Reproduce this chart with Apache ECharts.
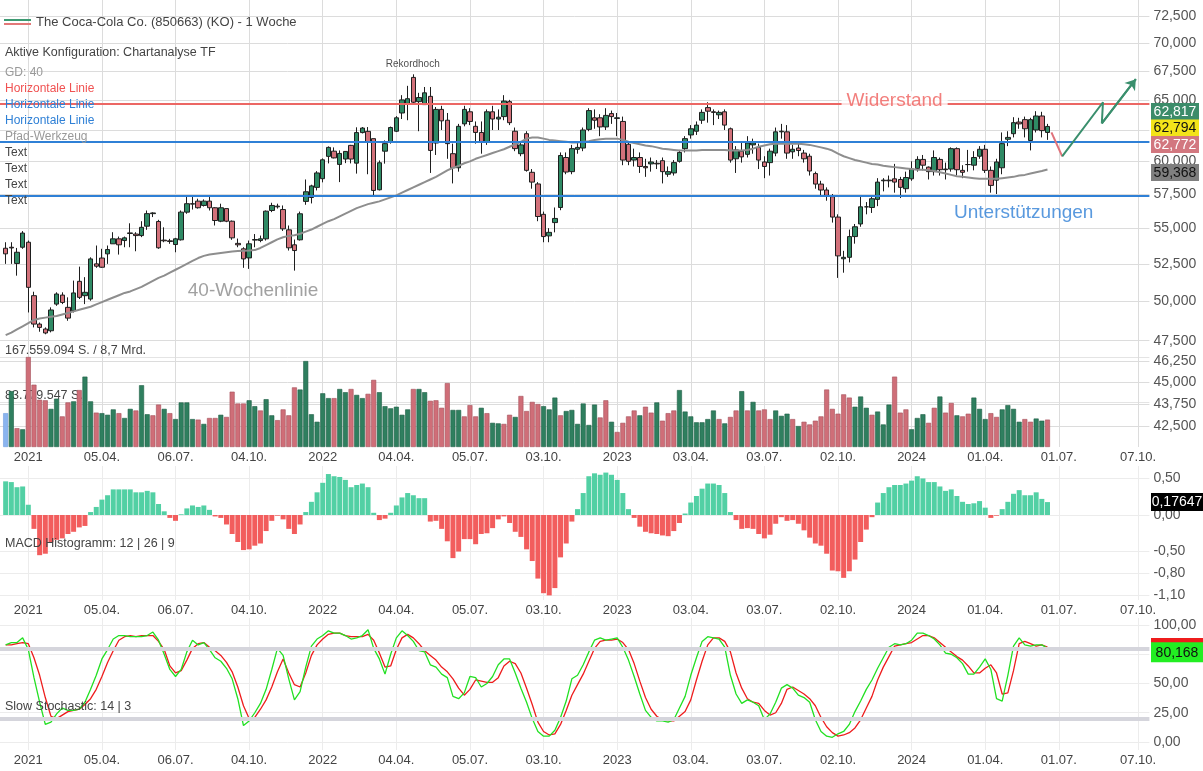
<!DOCTYPE html>
<html><head><meta charset="utf-8">
<script src="https://cdn.jsdelivr.net/npm/echarts@6.0.0/dist/echarts.min.js"></script>
<style>html,body{margin:0;padding:0;background:#fff;}#chart{width:1203px;height:771px;}</style>
</head><body><div id="chart"></div>
<script>
const FONT = '"Liberation Sans", Arial, sans-serif';
// ---------- axes / categories ----------
const firstWeek = '2020-11-30';
const weekCount = 204;
const dataOffset = 1; // first data week = 2020-12-07
const xTickDates = ['2021-01-04','2021-04-05','2021-07-05','2021-10-04','2022-01-03','2022-04-04','2022-07-04','2022-10-03','2023-01-02','2023-04-03','2023-07-03','2023-10-02','2024-01-01','2024-04-01','2024-07-01','2024-10-07'];
const xTickTexts = ['2021','05.04.','06.07.','04.10.','2022','04.04.','05.07.','03.10.','2023','03.04.','03.07.','02.10.','2024','01.04.','01.07.','07.10.'];
const priceTicks = [72.5,70,67.5,65,62.5,60,57.5,55,52.5,50,47.5,46.25,45,43.75,42.5];
const macdTicks = [0.5,0,-0.5,-0.8,-1.1];
const stochTicks = [100,75,50,25,0];
const volTicks = [83.779547,167.559094];
const volTickTexts = ['83.779.547 S.','167.559.094 S. / 8,7 Mrd.'];

// ---------- weekly candles ----------
const openP = [53.58,53.65,52.53,53.65,54.00,50.37,48.54,48.23,48.12,49.82,
50.41,49.61,49.39,51.32,50.37,50.15,52.50,52.90,53.19,53.89,
54.24,54.12,54.62,54.58,54.47,55.14,56.05,55.48,54.15,54.10,
53.84,54.17,56.16,56.78,56.97,56.65,56.97,56.48,55.50,56.42,
55.50,53.92,53.54,52.91,54.15,54.12,54.24,56.28,56.55,56.35,
54.88,53.82,54.17,56.95,57.24,58.00,58.66,60.39,60.80,59.76,
60.18,61.26,59.86,62.29,62.39,61.80,57.82,60.80,61.50,62.40,
63.90,64.70,66.93,64.85,64.60,65.30,61.45,64.20,63.30,60.60,
59.50,63.00,64.00,62.80,62.30,61.50,64.00,63.40,63.60,64.85,
62.40,60.60,62.20,59.15,58.26,56.00,54.45,55.40,56.50,60.30,
59.20,60.95,61.05,62.55,63.50,63.50,62.75,63.85,63.45,63.20,
61.35,60.10,60.30,59.60,59.80,59.85,60.05,59.00,59.10,60.00,
61.00,62.10,62.40,63.30,64.35,64.00,63.75,64.00,62.60,60.20,
60.80,60.55,61.30,61.10,59.95,59.90,60.65,62.35,62.35,60.75,
61.05,60.65,60.40,59.05,58.25,57.80,57.30,55.80,52.85,52.95,
54.40,55.30,56.55,56.50,57.10,58.50,58.55,58.65,58.60,57.90,
58.65,59.45,60.15,59.55,59.20,60.15,59.40,59.40,61.00,59.30,
59.75,59.70,60.40,60.95,59.30,58.55,59.50,61.75,62.20,63.15,
63.35,61.65,62.50,63.65,62.30];
const closeP = [53.19,53.60,53.30,54.65,50.92,48.54,48.33,47.98,49.44,50.48,
49.93,48.92,50.55,50.26,50.59,52.84,52.34,52.27,53.49,54.24,
53.82,54.31,54.66,54.47,55.06,56.05,56.10,53.61,54.10,54.05,
54.24,56.16,56.78,56.75,56.48,56.97,56.48,55.55,56.48,55.50,
54.31,53.82,52.84,53.89,54.19,54.24,56.23,56.65,56.60,54.95,
53.61,53.42,56.04,57.67,58.11,59.10,60.12,61.10,60.27,60.62,
60.78,60.18,62.29,62.66,61.52,57.77,59.89,61.40,62.70,63.50,
65.00,65.10,64.80,65.20,65.60,60.86,64.20,63.25,61.40,59.50,
62.80,64.20,63.20,62.30,61.50,64.00,63.40,63.55,64.90,63.10,
61.00,61.30,59.30,58.40,55.84,54.40,54.70,55.70,60.46,59.17,
61.00,61.10,62.50,64.10,63.30,62.75,63.70,63.60,63.50,60.10,
60.00,60.30,59.60,59.50,59.95,59.80,59.20,59.20,59.90,60.70,
61.80,62.60,62.90,63.95,64.05,63.95,63.95,62.90,60.10,60.90,
60.35,61.45,61.45,60.10,59.60,60.80,62.35,62.40,60.65,60.95,
60.85,60.20,59.25,58.25,57.80,57.40,55.80,53.05,52.95,54.40,
55.10,56.55,56.55,57.15,58.40,58.55,58.50,58.40,58.00,58.75,
59.40,60.15,59.70,59.20,60.30,59.35,59.35,61.00,59.35,59.15,
59.75,60.30,60.95,59.30,58.15,59.95,61.40,61.90,63.10,63.00,
62.60,63.35,63.65,62.45,62.79];
const lowP = [52.50,52.50,51.70,53.54,49.28,48.33,48.06,47.90,48.02,49.71,
49.82,48.75,49.28,50.15,49.82,50.04,52.23,52.23,52.50,53.89,
53.14,53.65,53.65,53.37,54.36,54.88,55.80,53.54,54.00,53.89,
53.30,54.12,56.04,56.35,56.42,56.57,56.28,55.19,55.43,55.43,
54.17,53.65,52.23,52.16,53.65,54.00,54.12,56.16,56.42,54.80,
53.42,52.04,54.12,56.70,56.80,57.77,58.38,59.84,60.23,58.40,
59.86,59.84,59.05,62.22,59.00,57.28,57.77,59.82,61.40,62.33,
63.40,63.30,64.60,62.40,64.60,59.10,60.50,62.50,60.20,58.30,
59.20,62.80,62.90,61.40,60.60,61.30,62.50,62.50,63.30,62.90,
60.80,60.40,59.20,57.90,55.50,54.00,54.00,54.70,56.30,59.00,
59.00,60.60,60.80,62.40,62.60,62.00,62.50,63.00,62.00,59.70,
59.70,59.60,59.10,58.80,59.20,59.40,58.30,58.80,58.90,59.90,
60.70,61.80,62.10,63.00,63.10,62.90,63.40,62.50,59.90,59.10,
59.90,60.30,60.60,59.40,58.70,58.90,60.40,61.80,60.20,60.20,
60.40,59.90,58.90,57.90,57.40,57.00,55.40,51.55,51.90,52.60,
53.90,55.10,56.00,56.10,56.60,57.70,58.00,57.60,57.20,57.60,
58.50,59.20,59.30,58.60,58.90,58.90,58.60,59.20,58.90,58.70,
59.20,59.30,60.20,59.10,57.60,57.50,59.00,61.20,61.90,62.60,
61.90,60.86,62.30,61.90,61.70];
const highP = [54.00,54.00,53.60,54.79,54.12,50.63,48.64,48.33,49.61,50.59,
50.59,50.26,51.37,52.31,51.60,52.95,53.77,53.54,53.77,54.71,
54.40,54.40,55.35,54.71,55.50,56.28,56.15,55.60,55.06,54.24,
54.31,56.28,57.40,57.28,57.15,57.10,57.40,56.52,56.78,56.42,
55.55,54.26,53.65,54.12,54.58,54.47,56.28,56.85,56.78,56.65,
55.19,54.19,56.20,58.60,58.20,59.24,60.23,61.18,61.10,60.86,
60.80,61.30,62.72,62.74,62.74,61.80,60.07,61.66,62.78,63.64,
65.40,66.20,67.20,65.60,66.10,66.10,64.40,64.50,63.90,61.40,
63.00,64.50,64.30,63.20,63.20,64.20,64.50,64.20,65.40,65.00,
62.70,61.60,62.40,59.40,58.40,56.20,55.00,56.50,60.70,60.70,
61.30,61.50,62.70,64.30,64.20,63.80,64.30,64.10,63.90,63.60,
61.60,61.00,60.70,60.20,60.30,60.10,60.30,59.60,60.10,60.90,
62.00,62.90,63.20,64.20,64.80,64.20,64.10,64.20,62.70,61.20,
61.60,62.00,61.80,61.40,60.40,61.00,62.70,63.00,62.90,61.30,
61.40,60.90,60.60,59.20,58.50,58.00,57.50,56.00,53.40,54.90,
55.30,57.40,56.90,57.40,58.70,58.70,58.90,59.80,58.80,59.20,
60.00,60.40,60.50,59.60,60.86,60.30,59.90,61.10,61.10,59.70,
60.90,60.80,61.20,61.30,59.60,60.20,62.30,62.40,63.55,63.50,
63.60,63.50,64.05,64.00,63.00];
const ma40 = [47.85,48.0,48.2,48.4,48.6,48.8,48.9,48.95,49.0,49.05,
49.15,49.25,49.35,49.45,49.55,49.65,49.8,49.95,50.1,50.25,
50.4,50.55,50.65,50.8,50.95,51.15,51.35,51.55,51.7,51.9,
52.1,52.3,52.5,52.7,52.9,53.05,53.15,53.2,53.25,53.3,
53.35,53.38,53.4,53.42,53.45,53.6,53.8,54.0,54.2,54.35,
54.45,54.5,54.6,54.75,54.9,55.1,55.3,55.5,55.65,55.85,
56.05,56.25,56.45,56.6,56.75,56.85,56.95,57.1,57.25,57.4,
57.6,57.8,58.0,58.2,58.4,58.6,58.8,59.05,59.3,59.5,
59.65,59.85,60.0,60.2,60.35,60.5,60.65,60.8,60.95,61.15,
61.35,61.55,61.8,61.9,61.9,61.8,61.7,61.65,61.6,61.55,
61.5,61.5,61.55,61.6,61.7,61.75,61.8,61.8,61.8,61.7,
61.55,61.45,61.35,61.25,61.2,61.1,61.0,60.95,60.9,60.85,
60.85,60.85,60.85,60.9,60.9,60.9,60.9,60.9,60.85,60.85,
60.85,60.9,61.0,61.15,61.25,61.35,61.4,61.4,61.4,61.4,
61.4,61.35,61.3,61.2,61.1,61.0,60.85,60.6,60.4,60.25,
60.1,60.0,59.9,59.8,59.75,59.65,59.6,59.55,59.5,59.45,
59.4,59.35,59.35,59.3,59.25,59.15,59.05,58.95,58.85,58.8,
58.75,58.7,58.65,58.65,58.65,58.65,58.7,58.75,58.8,58.9,
58.95,59.05,59.15,59.25,59.368];
// volume in million shares; direction 1 = up, -1 = down, 0 = highlighted
const volume = [63,104,35,33,167.56,116,88,87,71,90,
57,83,85,106,131,85,64,63,60,70,
63,54,71,68,115,61,59,79,71,63,
52,83,83,52,51,43,54,54,60,56,
103,81,81,87,76,68,89,59,50,70,
59,111,107,160,61,47,100,91,91,108,
102,108,97,91,99,125,102,76,72,75,
60,70,108,108,102,86,87,73,119,69,
69,57,78,57,73,63,45,44,43,60,
56,95,67,84,80,76,70,92,59,67,
69,43,81,41,79,55,87,47,28,45,
57,68,59,75,64,83,49,63,68,106,
66,57,46,46,52,68,52,44,56,68,
104,68,84,68,70,52,68,58,62,52,
39,47,42,49,57,107,71,62,98,92,
75,94,73,60,66,42,79,131,64,70,
33,54,61,45,73,94,64,82,59,57,
62,92,71,52,63,56,70,78,71,47,
52,47,53,49,51];
const volDir = [0,1,-1,1,-1,-1,-1,-1,1,1,
-1,-1,1,-1,1,1,-1,1,1,1,
-1,1,1,-1,1,1,-1,-1,1,-1,
1,1,1,1,-1,1,-1,-1,1,-1,
-1,-1,-1,1,1,-1,1,1,-1,-1,
-1,-1,1,1,1,1,1,1,-1,1,
1,-1,1,1,-1,-1,1,1,1,1,
1,1,-1,1,1,-1,-1,-1,-1,1,
1,-1,-1,-1,1,-1,1,1,-1,-1,
1,-1,-1,-1,-1,1,1,1,-1,1,
1,1,1,1,1,-1,-1,1,-1,-1,
-1,-1,1,-1,-1,1,-1,-1,-1,1,
1,1,1,1,1,1,-1,1,-1,-1,
1,-1,1,-1,-1,-1,1,1,1,-1,
1,-1,-1,-1,-1,-1,-1,-1,-1,-1,
1,1,1,-1,1,1,1,-1,-1,-1,
1,1,1,-1,-1,1,-1,-1,1,-1,
-1,1,1,1,-1,-1,1,1,1,1,
-1,-1,1,1,-1];
const macdHist = [0.46,0.45,0.38,0.39,0.14,-0.19,-0.55,-0.53,-0.37,-0.34,
-0.32,-0.26,-0.23,-0.17,-0.15,0.04,0.11,0.21,0.27,0.35,
0.35,0.35,0.35,0.31,0.31,0.33,0.31,0.15,0.05,-0.04,
-0.08,0.01,0.09,0.13,0.11,0.13,0.07,-0.02,-0.04,-0.13,
-0.26,-0.37,-0.48,-0.47,-0.42,-0.39,-0.22,-0.08,-0.01,-0.06,
-0.19,-0.26,-0.13,0.04,0.18,0.31,0.44,0.56,0.53,0.52,
0.48,0.38,0.41,0.43,0.38,0.03,-0.07,-0.05,0.03,0.13,
0.24,0.30,0.27,0.23,0.23,-0.09,-0.08,-0.19,-0.36,-0.59,
-0.50,-0.33,-0.33,-0.40,-0.26,-0.25,-0.18,-0.06,-0.02,-0.11,
-0.23,-0.30,-0.47,-0.63,-0.87,-1.07,-1.10,-1.00,-0.58,-0.39,
-0.09,0.08,0.30,0.53,0.57,0.55,0.58,0.55,0.48,0.30,
0.08,-0.04,-0.16,-0.23,-0.25,-0.26,-0.28,-0.29,-0.22,-0.11,
0.02,0.17,0.26,0.36,0.43,0.43,0.41,0.30,0.04,-0.07,
-0.19,-0.18,-0.19,-0.26,-0.32,-0.27,-0.12,-0.03,-0.08,-0.07,
-0.12,-0.21,-0.31,-0.39,-0.42,-0.53,-0.76,-0.77,-0.86,-0.77,
-0.61,-0.37,-0.20,-0.03,0.17,0.30,0.38,0.41,0.41,0.43,
0.47,0.53,0.50,0.45,0.45,0.39,0.33,0.35,0.26,0.18,
0.15,0.16,0.19,0.10,-0.04,-0.01,0.08,0.18,0.29,0.34,
0.27,0.27,0.31,0.22,0.17647];
const stochK = [83,85,85,89,79,55,34,15,17,24,
29,27,27,28,34,45,57,71,79,88,
91,91,90,90,90,91,94,87,75,62,
56,62,77,87,83,85,79,72,69,63,
54,37,14,18,25,33,45,62,80,74,
54,36,43,64,82,88,91,95,93,93,
91,88,89,91,96,80,71,58,75,89,
95,91,86,78,77,66,64,58,55,39,
37,42,56,55,47,50,56,66,71,71,
59,46,34,20,9,5,5,10,21,35,
54,57,66,77,87,89,87,88,89,81,
70,56,41,27,21,18,18,17,19,29,
39,57,72,86,90,89,88,81,57,41,
33,36,34,31,19,24,34,46,49,46,
40,38,34,19,9,5,4,7,9,15,
26,35,45,53,63,72,81,84,83,84,
87,93,93,91,88,83,76,75,72,67,
58,58,64,71,62,37,35,57,82,89,
83,82,83,83,80.168];
const stochD = [83,83,84,85,84,72,57,38,22,20,
23,26,27,28,32,37,45,56,68,78,
87,90,91,90,91,91,91,86,79,65,
59,61,70,80,84,85,81,78,74,68,
60,47,31,20,21,28,36,47,60,71,
59,49,47,59,74,83,88,92,93,93,
91,90,90,90,92,87,76,64,65,79,
89,92,89,84,78,74,70,64,60,54,
46,40,45,53,52,51,51,55,65,69,
67,59,46,32,17,9,6,7,15,27,
40,49,58,69,80,86,87,87,88,85,
79,67,52,38,28,22,19,18,18,22,
26,36,53,69,83,89,89,86,77,59,
46,37,34,33,27,23,25,33,45,47,
44,41,37,31,21,13,8,5,6,8,
12,19,29,39,53,64,73,82,83,84,
85,88,91,91,89,85,81,77,73,70,
65,59,59,63,66,59,41,42,61,84,
86,84,82,83,81.2];

// ---------- drawing annotations (week index, price) ----------
const resistanceLevel = 64.92;
const supportLevels = [61.53, 57.68];
const pathRed = [[185.7,62.31],[187.6,60.39]];
const pathGreen = [[187.6,60.39],[194.8,64.80],[194.6,63.05],[200.6,66.78]];
const textNotes = [
  {at:[158,64.92], text:'Widerstand', color:'#ef5f5c', size:19, bg:'#ffffff'},
  {at:[180.8,56.14], text:'Unterstützungen', color:'#2f80d6', size:19, bg:null},
  {at:[44.7,50.70], text:'40-Wochenlinie', color:'#8a8a8a', size:19, bg:null},
  {at:[72.9,68.10], text:'Rekordhoch', color:'#222222', size:10, bg:null}
];
const lastPrices = {ask:62.817, last:62.794, bid:62.772, ma:59.368};
const stochLast = {k:80.168, d:81.2};

// ---------- build ----------
const cats = [];
const t0 = Date.parse(firstWeek + 'T00:00:00Z');
for (let i = 0; i < weekCount; i++) cats.push(new Date(t0 + i * 604800000).toISOString().slice(0, 10));
const labelMap = {};
xTickDates.forEach((d, i) => { labelMap[d] = xTickTexts[i]; });
const isTick = (idx, val) => labelMap[val] !== undefined;
const L = Math.log;
const pad = arr => ['-'].concat(arr);
const de = (v, n) => v.toFixed(n).replace('.', ',');

const UP = '#2f8a65', DOWN = '#d2717a';
const candleData = openP.map((o, i) => [i + dataOffset, L(o), L(closeP[i]), L(lowP[i]), L(highP[i])]);
const volData = pad(volume.map((v, i) => ({
  value: v,
  itemStyle: volDir[i] > 0 ? {color: '#2f7f5f', borderColor: '#1f5e45'} :
             volDir[i] < 0 ? {color: '#cf6e78', borderColor: '#a4505a'} :
                             {color: '#8ab4ef', borderColor: '#6f9ddf'}
})));

const G = {left: -3, right: 53.6};
const xCat = (gi, showLabel, gridColor) => ({
  type: 'category', gridIndex: gi, data: cats, boundaryGap: false,
  axisLine: {show: false}, axisTick: {show: false},
  axisLabel: {show: showLabel, interval: isTick, formatter: v => labelMap[v] || '', color: '#444', fontSize: 13, fontFamily: FONT, margin: 4},
  splitLine: {show: !!gridColor, interval: isTick, lineStyle: {color: gridColor || '#ddd', width: 1}}
});

const chart = echarts.init(document.getElementById('chart'), null, {renderer: 'canvas'});
const option = {
  animation: false,
  backgroundColor: '#ffffff',
  textStyle: {fontFamily: FONT},
  grid: [
    {left: G.left, right: G.right, top: 0, bottom: 324},
    {left: G.left, right: G.right, top: 357, bottom: 324},
    {left: G.left, right: G.right, top: 466, bottom: 171},
    {left: G.left, right: G.right, top: 618, bottom: 21}
  ],
  xAxis: [
    xCat(0, true, '#dcdcdc'),
    xCat(1, false, null),
    xCat(2, true, '#ececec'),
    xCat(3, true, '#ececec'),
    {type: 'value', gridIndex: 0, min: 0, max: weekCount - 1, show: false}
  ],
  yAxis: [
    {type: 'value', gridIndex: 0, position: 'right', min: L(41.36), max: L(74.03),
     axisLine: {show: false}, axisTick: {show: false, customValues: priceTicks.map(L)},
     axisLabel: {customValues: priceTicks.map(L), formatter: v => de(Math.exp(v), 3), color: '#555', fontSize: 14, fontFamily: FONT, margin: 4},
     splitLine: {show: true, lineStyle: {color: '#dcdcdc'}}},
    {type: 'value', gridIndex: 1, position: 'left', min: 0, max: 167.559094,
     axisLine: {show: false}, axisTick: {show: false, customValues: volTicks},
     axisLabel: {inside: true, customValues: volTicks, formatter: v => volTickTexts[volTicks.indexOf(v)] || '', verticalAlign: 'bottom', color: '#444', fontSize: 12.5, fontFamily: FONT, margin: 5},
     splitLine: {show: true, lineStyle: {color: '#e4e4e4'}}},
    {type: 'value', gridIndex: 2, position: 'right', min: -1.163, max: 0.67,
     axisLine: {show: false}, axisTick: {show: false, customValues: macdTicks},
     axisLabel: {customValues: macdTicks, formatter: v => de(v, 2), color: '#555', fontSize: 14, fontFamily: FONT, margin: 4},
     splitLine: {show: true, lineStyle: {color: '#ececec'}}},
    {type: 'value', gridIndex: 3, position: 'right', min: -6.84, max: 105.98,
     axisLine: {show: false}, axisTick: {show: false, customValues: stochTicks},
     axisLabel: {customValues: stochTicks, formatter: v => de(v, 2), color: '#555', fontSize: 14, fontFamily: FONT, margin: 4},
     splitLine: {show: true, lineStyle: {color: '#ececec'}}}
  ],
  series: [
    {type: 'bar', name: 'Volumen', xAxisIndex: 1, yAxisIndex: 1, data: volData, barWidth: 5, itemStyle: {borderWidth: 0.6}, z: 1},
    {type: 'candlestick', name: 'KO', xAxisIndex: 0, yAxisIndex: 0, data: candleData,
     encode: {x: 0, y: [1, 2, 3, 4]}, barWidth: 5,
     itemStyle: {color: UP, color0: DOWN, borderColor: '#1e1e1e', borderColor0: '#1e1e1e', borderWidth: 1}, z: 3},
    {type: 'line', name: 'GD 40', xAxisIndex: 0, yAxisIndex: 0, data: pad(ma40.map(L)), symbol: 'none',
     lineStyle: {color: '#8e8e8e', width: 2}, z: 4,
     markLine: {silent: true, symbol: 'none', label: {show: false}, animation: false,
       data: [
         {yAxis: L(resistanceLevel), lineStyle: {color: '#ec6764', width: 2.2, type: 'solid', opacity: 1}},
         {yAxis: L(supportLevels[0]), lineStyle: {color: '#2f80d6', width: 2, type: 'solid', opacity: 1}},
         {yAxis: L(supportLevels[1]), lineStyle: {color: '#2f80d6', width: 2, type: 'solid', opacity: 1}}
       ]}},
    {type: 'line', name: 'PfadRot', xAxisIndex: 4, yAxisIndex: 0, data: pathRed.map(p => [p[0], L(p[1])]), symbol: 'none',
     lineStyle: {color: '#e0727a', width: 2}, z: 6},
    {type: 'line', name: 'PfadGruen', xAxisIndex: 4, yAxisIndex: 0, data: pathGreen.map(p => [p[0], L(p[1])]), symbol: 'none',
     lineStyle: {color: '#3a8f6d', width: 2}, z: 6},
    {type: 'lines', coordinateSystem: 'cartesian2d', xAxisIndex: 4, yAxisIndex: 0, symbol: ['none', 'arrow'], symbolSize: 10,
     lineStyle: {color: '#3a8f6d', width: 2, opacity: 1}, z: 6,
     data: [{coords: pathGreen.slice(-2).map(p => [p[0], L(p[1])])}]},
    {type: 'scatter', name: 'Notizen', xAxisIndex: 4, yAxisIndex: 0, symbolSize: 0, z: 8, silent: true,
     data: textNotes.map(n => ({value: [n.at[0], L(n.at[1])],
       label: {show: true, position: 'inside', formatter: n.text, color: n.color, fontSize: n.size, fontFamily: FONT,
               backgroundColor: n.bg || 'transparent', padding: n.bg ? [0, 5] : 0}}))},
    {type: 'bar', name: 'MACD', xAxisIndex: 2, yAxisIndex: 2, barWidth: 5, data: pad(macdHist),
     itemStyle: {color: p => (p.value >= 0 ? '#52d0a4' : '#f25d5d')}},
    {type: 'line', name: 'Level', xAxisIndex: 3, yAxisIndex: 3, data: [], z: 1,
     markLine: {silent: true, symbol: 'none', label: {show: false}, animation: false,
       lineStyle: {color: '#d5d5dc', width: 4, type: 'solid'}, data: [{yAxis: 80}, {yAxis: 20}]}},
    {type: 'line', name: '%D', xAxisIndex: 3, yAxisIndex: 3, data: pad(stochD), symbol: 'none', lineStyle: {color: '#ee1c1c', width: 1.3}, z: 3},
    {type: 'line', name: '%K', xAxisIndex: 3, yAxisIndex: 3, data: pad(stochK), symbol: 'none', lineStyle: {color: '#22e022', width: 1.3}, z: 4}
  ]
};
chart.setOption(option);

// ---------- texts and value tags ----------
const txt = (s, x, y, color, size) => ({type: 'text', x: x, y: y, z: 50,
  style: {text: s, fill: color, fontSize: size, fontFamily: FONT, verticalAlign: 'middle', align: 'left'}});
const tag = (x, yc, w, h, bg, fg, s) => [
  {type: 'rect', z: 60, shape: {x: x, y: yc - h / 2, width: w, height: h}, style: {fill: bg}},
  {type: 'text', z: 61, x: x + w / 2, y: yc + 0.5, style: {text: s, fill: fg, fontSize: 14, fontFamily: FONT, align: 'center', verticalAlign: 'middle'}}
];
const py = v => chart.convertToPixel({yAxisIndex: 0}, L(v));
const my = v => chart.convertToPixel({yAxisIndex: 2}, v);
const sy = v => chart.convertToPixel({yAxisIndex: 3}, v);
const yLast = py(lastPrices.last) + 1.5;
const g = [
  {type: 'line', z: 50, shape: {x1: 4, y1: 20, x2: 31, y2: 20}, style: {stroke: '#3d9a72', lineWidth: 2}},
  {type: 'line', z: 50, shape: {x1: 4, y1: 24, x2: 31, y2: 24}, style: {stroke: '#e27878', lineWidth: 2}},
  txt('The Coca-Cola Co. (850663) (KO) - 1 Woche', 36, 22, '#444', 13),
  txt('Aktive Konfiguration: Chartanalyse TF', 5, 53, '#444', 12.5),
  txt('GD: 40', 5, 73, '#999', 12),
  txt('Horizontale Linie', 5, 89, '#f05252', 12),
  txt('Horizontale Linie', 5, 105, '#2f80d6', 12),
  txt('Horizontale Linie', 5, 121, '#2f80d6', 12),
  txt('Pfad-Werkzeug', 5, 137, '#999', 12),
  txt('Text', 5, 153, '#444', 12),
  txt('Text', 5, 169, '#444', 12),
  txt('Text', 5, 185, '#444', 12),
  txt('Text', 5, 201, '#444', 12),
  txt('MACD Histogramm: 12 | 26 | 9', 5, 544, '#444', 12.5),
  txt('Slow Stochastic: 14 | 3', 5, 707, '#444', 12.5)
]
.concat(tag(1151, yLast - 16.5, 48, 17, '#3b8c6a', '#ffffff', de(lastPrices.ask, 3)))
.concat(tag(1151, yLast, 48, 17, '#f3e31a', '#111111', de(lastPrices.last, 3)))
.concat(tag(1151, yLast + 16.5, 48, 17, '#d2777f', '#ffffff', de(lastPrices.bid, 3)))
.concat(tag(1151, py(lastPrices.ma) + 3, 48, 17, '#7f7f7f', '#111111', de(lastPrices.ma, 3)))
.concat(tag(1151, my(macdHist[macdHist.length - 1]), 52, 18, '#000000', '#ffffff', '0,17647'))
.concat(tag(1151, sy(stochLast.d) + 1, 52, 20, '#ee1c1c', '#111111', ''))
.concat(tag(1151, sy(stochLast.k) + 4, 52, 20, '#22ee22', '#111111', de(stochLast.k, 3)));
chart.setOption({graphic: g});
</script></body></html>
